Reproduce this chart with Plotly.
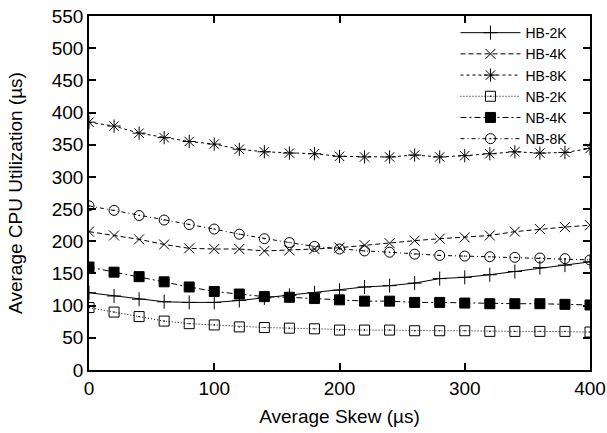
import plotly.graph_objects as go

skew = [0, 20, 40, 60, 80, 100, 120, 140, 160, 180, 200,
        220, 240, 260, 280, 300, 320, 340, 360, 380, 400]

hb_2k = [120, 115, 110, 106, 105, 105, 108, 112, 116, 120, 124,
         129, 131, 135, 142, 144, 148, 153, 159, 163, 168]
hb_4k = [215, 209, 203, 195, 189, 188, 188, 185, 186, 188, 190,
         194, 197, 201, 204, 206, 209, 215, 219, 222, 225]
hb_8k = [385, 379, 368, 361, 355, 351, 343, 339, 337, 336, 332,
         331, 331, 334, 331, 333, 336, 339, 337, 338, 344]
nb_2k = [97, 90, 83, 76, 72, 70, 67, 66, 65, 64, 62,
         62, 62, 61, 61, 61, 60, 60, 60, 60, 59]
nb_4k = [160, 152, 145, 137, 129, 122, 118, 114, 113, 111, 109,
         107, 107, 105, 105, 104, 103, 103, 103, 102, 101]
nb_8k = [255, 248, 240, 233, 226, 219, 211, 204, 198, 192, 188,
         185, 183, 180, 178, 177, 176, 175, 174, 173, 171]

series = [
    ("HB-2K", hb_2k, "solid", "cross-thin-open", 10),
    ("HB-4K", hb_4k, "5px,3px", "x-thin-open", 10),
    ("HB-8K", hb_8k, "3px,3px", "asterisk-open", 11),
    ("NB-2K", nb_2k, "1px,2px", "square-open-dot", 10),
    ("NB-4K", nb_4k, "6px,3px,2px,3px", "square", 10),
    ("NB-8K", nb_8k, "4px,3px,1px,3px", "circle-open-dot", 10),
]

fig = go.Figure()
for name, vals, dash, sym, size in series:
    fig.add_trace(go.Scatter(
        x=skew, y=vals, name=name, mode="lines+markers",
        line=dict(color="black", width=1, dash=dash),
        marker=dict(symbol=sym, size=size, color="black",
                    line=dict(color="black", width=1)),
    ))

font = "Liberation Sans, Arial, Helvetica, sans-serif"
axis_common = dict(
    showline=True, linecolor="black", linewidth=1.5, mirror="allticks",
    ticks="inside", ticklen=7, tickcolor="black", tickwidth=1.5,
    showgrid=False, zeroline=False, automargin=False,
    tickfont=dict(family=font, size=19, color="black"),
)
fig.update_xaxes(range=[0, 400], tickvals=[0, 100, 200, 300, 400],
                 title=dict(text="Average Skew (µs)",
                            font=dict(family=font, size=19, color="black"),
                            standoff=12),
                 **axis_common)
fig.update_yaxes(range=[0, 550], dtick=50,
                 title=dict(text="Average CPU Utilization (µs)",
                            font=dict(family=font, size=19, color="black"),
                            standoff=24),
                 **axis_common)

fig.update_layout(
    width=607, height=433,
    margin=dict(l=89, r=17, t=16, b=63, autoexpand=False),
    paper_bgcolor="white", plot_bgcolor="white",
    showlegend=True,
    legend=dict(x=0.965, y=0.997, xanchor="right", yanchor="top",
                bgcolor="rgba(0,0,0,0)", borderwidth=0,
                font=dict(family=font, size=14, color="black"),
                tracegroupgap=0, itemwidth=60),
)

fig.write_html("out.html",
               config={"displayModeBar": False},
               post_script="document.body.style.margin='0';")
